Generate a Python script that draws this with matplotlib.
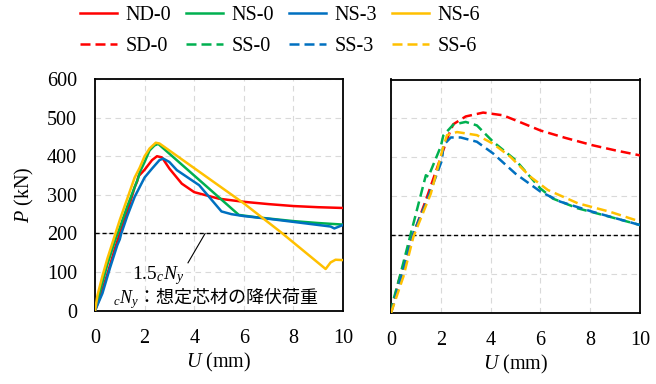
import matplotlib
matplotlib.use("Agg")
import matplotlib.pyplot as plt
from matplotlib.lines import Line2D

plt.rcParams['font.family'] = ['Liberation Serif', 'Noto Sans CJK JP']
plt.rcParams['mathtext.fontset'] = 'custom'
plt.rcParams['mathtext.rm'] = 'Liberation Serif'
plt.rcParams['mathtext.it'] = 'Liberation Serif:italic'

# ---------------- data ----------------
# Left panel (solid)
nd0_u = [0, 0.2, 0.5, 0.8, 1.0, 1.3, 1.6, 1.7, 1.75, 2.0, 2.3, 2.5, 2.7, 3.0, 3.5, 4.0, 5.0, 6.0, 7.0, 8.0, 9.0, 10.0]
nd0_p = [0, 35, 95, 160, 200, 255, 320, 335, 348, 365, 390, 400, 397, 368, 329, 307, 290, 282, 276, 271, 268, 266]

ns0_u = [0, 0.2, 0.5, 0.8, 1.0, 1.3, 1.6, 1.75, 1.8, 2.0, 2.2, 2.4, 2.55, 4.23, 5.8, 6.5, 8.0, 9.0, 10.0]
ns0_p = [0, 50, 120, 180, 215, 270, 320, 345, 358, 385, 415, 428, 432, 337, 248, 242, 232, 227, 223]

ns3_u = [0, 0.3, 0.6, 0.9, 1.0, 1.05, 1.3, 1.6, 2.0, 2.3, 2.6, 2.75, 3.0, 3.3, 4.2, 5.1, 5.5, 6.0, 7.0, 8.0, 9.0, 9.5, 9.65, 10.0]
ns3_p = [0, 45, 110, 170, 185, 198, 245, 295, 345, 368, 390, 394, 385, 364, 325, 257, 250, 245, 238, 230, 222, 218, 213, 222]

ns6_u = [0, 0.1, 0.3, 0.5, 0.8, 1.0, 1.3, 1.6, 1.8, 2.0, 2.2, 2.45, 2.6, 6.0, 7.5, 9.3, 9.5, 9.7, 10.0]
ns6_p = [0, 40, 90, 135, 195, 235, 290, 345, 370, 400, 420, 435, 433, 278, 203, 108, 125, 132, 131]

# Right panel (dashed)
sd0_u = [0, 0.3, 0.8, 1.4, 2.0, 2.3, 2.5, 3.0, 3.7, 4.5, 5.2, 6.0, 7.0, 8.1, 9.0, 10.0]
sd0_p = [0, 80, 185, 290, 400, 455, 485, 505, 515, 508, 490, 469, 450, 431, 418, 405]

ss0_u = [0, 0.1, 0.4, 0.8, 1.4, 1.5, 2.0, 2.1, 2.5, 3.0, 3.45, 4.1, 5.0, 6.0, 6.5, 7.5, 8.8, 10.0]
ss0_p = [0, 34, 105, 205, 354, 350, 428, 456, 484, 491, 482, 440, 393, 320, 294, 269, 247, 226]

ss3_u = [0, 0.5, 0.9, 1.45, 2.05, 2.1, 2.4, 2.8, 3.45, 4.1, 5.0, 6.0, 6.8, 8.1, 10.0]
ss3_p = [0, 111, 205, 290, 393, 431, 451, 451, 440, 410, 358, 312, 286, 260, 226]

ss6_u = [0, 0.5, 0.9, 1.6, 2.1, 2.25, 2.65, 3.45, 4.1, 4.8, 5.6, 6.3, 7.5, 8.8, 10.0]
ss6_p = [0, 94, 196, 307, 427, 457, 465, 457, 435, 401, 350, 316, 282, 260, 235]

yield_line = 200  # 1.5 cNy
x_ticks = [0, 2, 4, 6, 8, 10]
y_ticks = [0, 100, 200, 300, 400, 500, 600]

RED, GREEN, BLUE, YELLOW = '#FF0000', '#00B050', '#0070C0', '#FFC000'
LW = 1.8
DASH = (4, 2)

fig = plt.figure(figsize=(6.56, 3.84), dpi=100)
W, H = 656, 384
def rect(l, r, t, b):
    return [l / W, 1 - b / H, (r - l) / W, (b - t) / H]

axL = fig.add_axes(rect(95, 343, 79, 310.7))
axR = fig.add_axes(rect(391, 640, 79.5, 313))

for ax in (axL, axR):
    ax.set_xlim(0, 10)
    ax.set_ylim(0, 600)
    ax.set_xticks(x_ticks)
    ax.set_yticks(y_ticks)
    ax.grid(True, color='#D9D9D9', linestyle=(0, (5, 4)), linewidth=0.8)
    ax.set_axisbelow(True)
    ax.tick_params(length=0, labelsize=14.5)
    ax.tick_params(axis='x', pad=13)
    ax.tick_params(axis='y', pad=13)
    for s in ax.spines.values():
        s.set_linewidth(1.3)
        s.set_color('black')
    ax.axhline(yield_line, color='black', lw=1.0, dashes=(3, 2), zorder=3)
    ax.set_xlabel('$U$ (mm)', fontsize=14.5, labelpad=2)

axR.tick_params(labelleft=False)
axL.set_ylabel('$P$ (kN)', fontsize=14.5, labelpad=8)

axL.plot(nd0_u, nd0_p, color=RED, lw=LW, zorder=4)
axL.plot(ns0_u, ns0_p, color=GREEN, lw=LW, zorder=4)
axL.plot(ns3_u, ns3_p, color=BLUE, lw=LW, zorder=4)
axL.plot(ns6_u, ns6_p, color=YELLOW, lw=LW, zorder=4)

axR.plot(sd0_u, sd0_p, color=RED, lw=LW, dashes=DASH, zorder=4)
axR.plot(ss0_u, ss0_p, color=GREEN, lw=LW, dashes=DASH, zorder=4)
axR.plot(ss3_u, ss3_p, color=BLUE, lw=LW, dashes=DASH, zorder=4)
axR.plot(ss6_u, ss6_p, color=YELLOW, lw=LW, dashes=DASH, zorder=4)

# annotation
axL.plot([3.75, 4.44], [124, 200], color='black', lw=0.8, zorder=5)
axL.text(1.49, 82, '1.5${}_{c}N_{y}$', fontsize=14, va='baseline', ha='left', zorder=6)
axL.text(0.73, 20, '${}_{c}N_{y}$：想定芯材の降伏荷重', fontsize=13, va='baseline', ha='left',
         family=['Noto Sans CJK JP', 'Liberation Serif'], zorder=6)

handles = [
    Line2D([], [], color=RED, lw=LW), Line2D([], [], color=RED, lw=LW, dashes=DASH),
    Line2D([], [], color=GREEN, lw=LW), Line2D([], [], color=GREEN, lw=LW, dashes=DASH),
    Line2D([], [], color=BLUE, lw=LW), Line2D([], [], color=BLUE, lw=LW, dashes=DASH),
    Line2D([], [], color=YELLOW, lw=LW), Line2D([], [], color=YELLOW, lw=LW, dashes=DASH),
]
labels = ['ND-0', 'SD-0', 'NS-0', 'SS-0', 'NS-3', 'SS-3', 'NS-6', 'SS-6']
fig.legend(handles, labels, ncol=4, frameon=False, fontsize=14.5,
           loc='center', bbox_to_anchor=(280 / W, 1 - 31 / H),
           handlelength=1.85, handletextpad=0.4, columnspacing=0.75,
           labelspacing=0.55, borderpad=0)

fig.savefig('out.png', dpi=100)
